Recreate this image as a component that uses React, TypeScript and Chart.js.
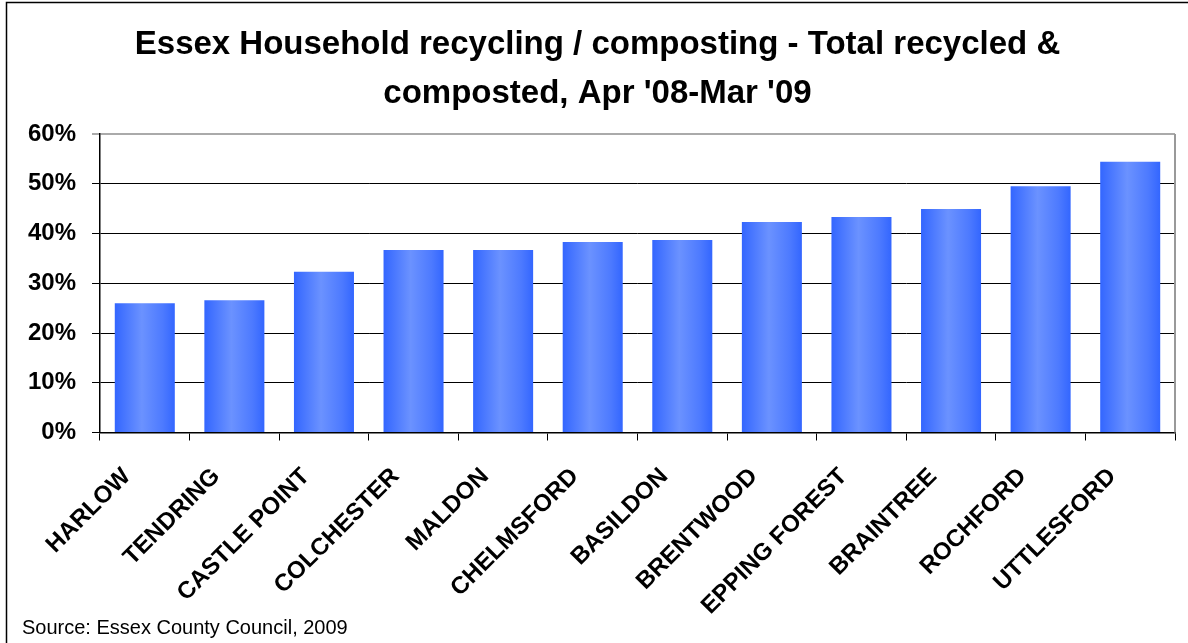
import React, { useEffect, useRef } from "react";
import { Chart, registerables } from "chart.js";

Chart.register(...registerables);

const categories = [
  "HARLOW",
  "TENDRING",
  "CASTLE POINT",
  "COLCHESTER",
  "MALDON",
  "CHELMSFORD",
  "BASILDON",
  "BRENTWOOD",
  "EPPING FOREST",
  "BRAINTREE",
  "ROCHFORD",
  "UTTLESFORD",
];
const recycledPct = [26.0, 26.6, 32.3, 36.7, 36.7, 38.3, 38.7, 42.3, 43.3, 44.9, 49.5, 54.4];
const titleLines = [
  "Essex Household recycling / composting - Total recycled &",
  "composted, Apr '08-Mar '09",
];
const sourceText = "Source: Essex County Council, 2009";
const yMin = 0;
const yMax = 60;
const yStep = 10;

const FONT = "'Liberation Sans', Arial, Helvetica, sans-serif";
const BAR_PCT = 0.67;

const decorPlugin = {
  id: "decor",
  afterDraw(chart: any) {
    const { ctx, chartArea } = chart;
    ctx.save();
    ctx.strokeStyle = "#999999";
    ctx.lineWidth = 2;
    ctx.beginPath();
    ctx.moveTo(chartArea.right, chartArea.top);
    ctx.lineTo(chartArea.right, chartArea.bottom);
    ctx.stroke();
    ctx.strokeStyle = "#000000";
    ctx.lineWidth = 1.5;
    ctx.beginPath();
    ctx.moveTo(6.5, chart.height);
    ctx.lineTo(6.5, 2.5);
    ctx.lineTo(chart.width, 2.5);
    ctx.stroke();
    ctx.fillStyle = "#000000";
    ctx.font = `20px ${FONT}`;
    ctx.textAlign = "left";
    ctx.textBaseline = "alphabetic";
    ctx.fillText(sourceText, 22, 634);
    ctx.restore();
  },
};

export default function App() {
  const canvasRef = useRef<HTMLCanvasElement | null>(null);

  useEffect(() => {
    const canvas = canvasRef.current;
    if (!canvas) return;
    const chart = new Chart(canvas, {
      type: "bar",
      data: {
        labels: categories,
        datasets: [
          {
            label: "Total recycled & composted",
            data: recycledPct,
            backgroundColor: (c: any) => {
              const chartObj = c.chart;
              const xs = chartObj && chartObj.scales ? chartObj.scales.x : null;
              if (!xs || typeof c.dataIndex !== "number") return "#4d7aff";
              const cx = xs.getPixelForValue(c.dataIndex);
              const w = (xs.width / categories.length) * BAR_PCT;
              if (!Number.isFinite(cx) || !Number.isFinite(w) || w <= 0) return "#4d7aff";
              const g = chartObj.ctx.createLinearGradient(cx - w / 2, 0, cx + w / 2, 0);
              g.addColorStop(0, "#3366FF");
              g.addColorStop(0.45, "#6B92FF");
              g.addColorStop(0.8, "#4D7AFF");
              g.addColorStop(1, "#3366FF");
              return g;
            },
            borderWidth: 0,
            barPercentage: BAR_PCT,
            categoryPercentage: 1,
          },
        ],
      },
      options: {
        animation: false,
        responsive: true,
        maintainAspectRatio: false,
        layout: { padding: { left: 20, right: 13, top: 0, bottom: 0 } },
        plugins: {
          legend: { display: false },
          tooltip: { enabled: false },
          title: {
            display: true,
            text: titleLines,
            color: "#000000",
            font: { family: FONT, size: 33, weight: "bold", lineHeight: "49px" },
            padding: { top: 20, bottom: 16 },
          },
        },
        scales: {
          x: {
            afterFit: (s: any) => {
              s.height = 210.5;
            },
            grid: {
              offset: true,
              drawOnChartArea: false,
              drawTicks: true,
              tickLength: 8,
              color: "#000000",
              lineWidth: 1,
            },
            border: { display: true, color: "#000000", width: 1.5 },
            ticks: {
              autoSkip: false,
              minRotation: 45,
              maxRotation: 45,
              padding: 22,
              labelOffset: -18,
              color: "#000000",
              font: { family: FONT, size: 24, weight: "bold" },
            },
          },
          y: {
            min: yMin,
            max: yMax,
            afterFit: (s: any) => {
              s.width = 80;
            },
            grid: {
              drawTicks: true,
              tickLength: 8,
              color: (c: any) => (c.tick && c.tick.value === yMax ? "#aaaaaa" : "#000000"),
              lineWidth: (c: any) => (c.tick && c.tick.value === yMax ? 2 : 1),
            },
            border: { display: true, color: "#000000", width: 1.5 },
            ticks: {
              stepSize: yStep,
              padding: 16,
              color: "#000000",
              font: { family: FONT, size: 24, weight: "bold" },
              callback: (v: any) => `${v}%`,
            },
          },
        },
      },
      plugins: [decorPlugin],
    });
    return () => chart.destroy();
  }, []);

  return (
    <div style={{ position: "fixed", left: 0, top: 0, width: 1188, height: 643, background: "#ffffff" }}>
      <canvas ref={canvasRef} />
    </div>
  );
}
